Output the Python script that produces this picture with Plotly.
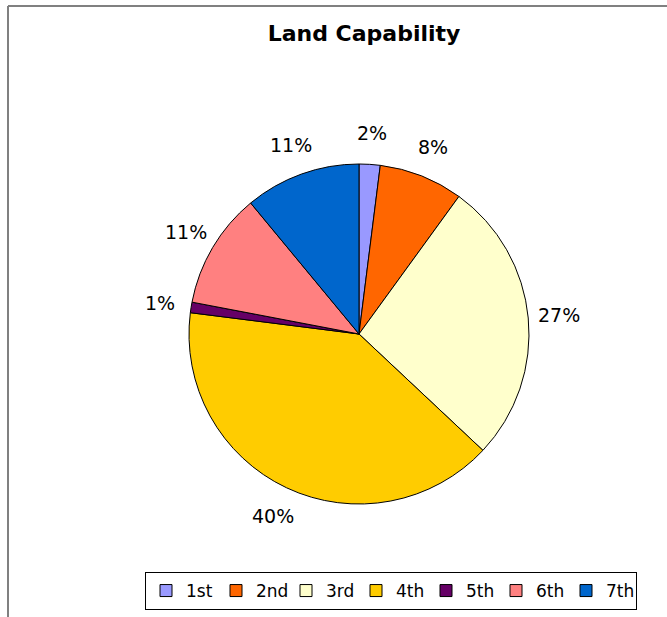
import math
import plotly.graph_objects as go

# Land capability classes and their share of the area (percent)
classes = ["1st", "2nd", "3rd", "4th", "5th", "6th", "7th"]
shares = [2, 8, 27, 40, 1, 11, 11]
colors = ["#9999FF", "#FF6600", "#FFFFCC", "#FFCC00", "#660066", "#FF8080", "#0066CC"]

W, H = 667, 617
FONT = "DejaVu Sans, Liberation Sans, Arial, sans-serif"

# pie placement in pixels (centre and radius)
CX, CY, R = 359, 334, 170
LABEL_DIST = 201

fig = go.Figure(
    go.Pie(
        labels=classes,
        values=shares,
        sort=False,
        direction="clockwise",
        rotation=0,
        marker=dict(colors=colors, line=dict(color="#000000", width=1)),
        textinfo="none",
        domain=dict(x=[(CX - R) / W, (CX + R) / W], y=[1 - (CY + R) / H, 1 - (CY - R) / H]),
        hoverinfo="label+percent",
    )
)

# percentage labels placed just outside each slice, at the slice's mid-angle
total = sum(shares)
annotations = []
cum = 0
for v in shares:
    mid = (cum + v / 2) / total * 2 * math.pi
    cum += v
    px = CX + LABEL_DIST * math.sin(mid)
    py = CY - LABEL_DIST * math.cos(mid)
    annotations.append(dict(
        x=px / W, y=1 - py / H, xref="paper", yref="paper",
        text=f"{round(v / total * 100)}%", showarrow=False,
        xanchor="center", yanchor="middle",
        font=dict(family=FONT, size=19, color="#000000"),
    ))

fig.update_layout(
    width=W,
    height=H,
    margin=dict(l=0, r=0, t=0, b=0),
    paper_bgcolor="#FFFFFF",
    plot_bgcolor="#FFFFFF",
    title=dict(
        text="<b>Land Capability</b>",
        x=364 / W,
        xanchor="center",
        y=1 - 33 / H,
        yanchor="middle",
        font=dict(family=FONT, size=22, color="#000000"),
    ),
    legend=dict(
        orientation="h",
        x=391 / W,
        xanchor="center",
        y=1 - 591 / H,
        yanchor="middle",
        bordercolor="#000000",
        borderwidth=1,
        bgcolor="#FFFFFF",
        font=dict(family=FONT, size=17, color="#000000"),
        itemwidth=30,
        entrywidth=25,
        tracegroupgap=0,
    ),
    annotations=annotations,
    shapes=[
        dict(type="line", xref="paper", yref="paper", x0=8 / W, y0=0, x1=8 / W, y1=1 - 6 / H,
             line=dict(color="#808080", width=2)),
        dict(type="line", xref="paper", yref="paper", x0=8 / W, y0=1 - 6 / H, x1=1, y1=1 - 6 / H,
             line=dict(color="#808080", width=2)),
    ],
)

fig.write_html("out.html")
